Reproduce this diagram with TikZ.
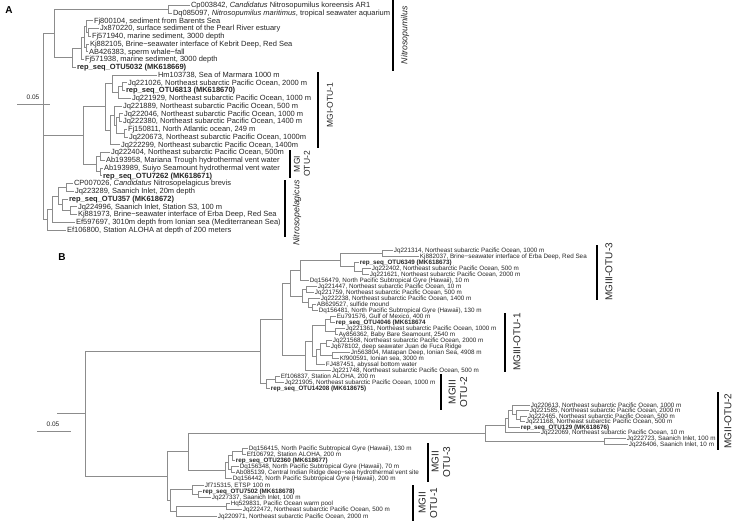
\documentclass[tikz,border=0pt]{standalone}
\usepackage{fontspec}
\setmainfont{Liberation Sans}
\usetikzlibrary{calc}
\tikzset{
 leafA/.style={anchor=west, inner xsep=0.8pt, inner ysep=0pt, text height=5.3pt, text depth=0pt, font=\fontsize{7.5}{8}\selectfont, text=black!85},
 leafB/.style={anchor=west, inner xsep=0.7pt, inner ysep=0pt, text height=4.5pt, text depth=0pt, font=\fontsize{6.3}{7}\selectfont, text=black!85},
 br/.style={draw=black!45, line width=0.5pt},
 cladebar/.style={draw=black, line width=1.3pt},
 cladeA/.style={rotate=90, font=\fontsize{8.5}{10}\selectfont, align=center, inner sep=0pt, text=black!85},
 cladeAi/.style={cladeA, font=\itshape\fontsize{8.8}{10}\selectfont},
 cladeB/.style={rotate=90, font=\fontsize{10}{11.5}\selectfont, align=center, inner sep=0pt, text=black!85},
 panel/.style={font=\bfseries\fontsize{10}{12}\selectfont, inner sep=0pt},
 scl/.style={font=\fontsize{6.5}{8}\selectfont, inner sep=0pt, text=black!85},
}
\newcommand\inode[4]{%
  \path let \p1=(#3), \p2=(#4) in coordinate (#1) at (#2pt,{0.5*\y1+0.5*\y2});
  \draw[br] (#1) |- (#3);
  \draw[br] (#1) |- (#4);}
\newcommand\lfA[4]{\node[leafA] (#1) at (#2,#3) {#4};}
\newcommand\lfB[4]{\node[leafB] (#1) at (#2,#3) {#4};}
\begin{document}
\begin{tikzpicture}[x=1pt,y=-1pt]
\useasboundingbox (0,0) rectangle (737,522);
\fill[white] (0,0) rectangle (737,522);
% ---------------- Panel A ----------------
\node[panel] (pA) at (9,10) {A};
\lfA{cpa}{190}{5}{Cp003842, \textit{Candidatus} Nitrosopumilus koreensis AR1}
\lfA{dqa}{172}{12.75}{Dq085097, \textit{Nitrosopumilus maritimus}, tropical seawater aquarium}
\lfA{fja}{93}{20.5}{Fj800104, sediment from Barents Sea}
\lfA{jxa}{99}{28.25}{Jx870220, surface sediment of the Pearl River estuary}
\lfA{fjb}{91}{36}{Fj571940, marine sediment, 3000 depth}
\lfA{kja}{89}{43.75}{Kj882105, Brine−seawater interface of Kebrit Deep, Red Sea}
\lfA{aba}{88}{51.5}{AB426383, sperm whale−fall}
\lfA{fjc}{84}{59.25}{Fj571938, marine sediment, 3000 depth}
\lfA{rpa}{76}{67}{\textbf{rep\_seq\_OTU5032 (MK618669)}}
\lfA{hma}{157}{74.75}{Hm103738, Sea of Marmara 1000 m}
\lfA{jqa}{127}{82.5}{Jq221026, Northeast subarctic Pacific Ocean, 2000 m}
\lfA{rpb}{125}{90.25}{\textbf{rep\_seq\_OTU6813 (MK618670)}}
\lfA{jqb}{131}{98}{Jq221929, Northeast subarctic Pacific Ocean, 1000 m}
\lfA{jqc}{122}{105.75}{Jq221889, Northeast subarctic Pacific Ocean, 500 m}
\lfA{jqd}{123}{113.5}{Jq222046, Northeast subarctic Pacific Ocean, 1000 m}
\lfA{jqe}{122}{121.25}{Jq222380, Northeast subarctic Pacific Ocean, 1400 m}
\lfA{fjd}{127}{129}{Fj150811, North Atlantic ocean, 249 m}
\lfA{jqf}{128}{136.75}{Jq220673, Northeast subarctic Pacific Ocean, 1000m}
\lfA{jqg}{120}{144.5}{Jq222299, Northeast subarctic Pacific Ocean, 1400m}
\lfA{jqh}{110}{152.25}{Jq222404, Northeast subarctic Pacific Ocean, 500m}
\lfA{abb}{105}{160}{Ab193958, Mariana Trough hydrothermal vent water}
\lfA{abc}{103}{167.75}{Ab193989, Suiyo Seamount hydrothermal vent water}
\lfA{rpc}{102}{175.5}{\textbf{rep\_seq\_OTU7262 (MK618671)}}
\lfA{cpb}{73}{183.25}{CP007026, \textit{Candidatus} Nitrosopelagicus brevis}
\lfA{jqi}{74}{191}{Jq223289, Saanich Inlet, 20m depth}
\lfA{rpd}{68}{198.75}{\textbf{rep\_seq\_OTU357 (MK618672)}}
\lfA{jqj}{77}{206.5}{Jq224996, Saanich Inlet, Station S3, 100 m}
\lfA{kjb}{77}{214.25}{Kj881973, Brine−seawater interface of Erba Deep, Red Sea}
\lfA{efa}{75}{222}{Ef597697, 3010m depth from Ionian sea (Mediterranean Sea)}
\lfA{efb}{66}{229.75}{Ef106800, Station ALOHA at depth of 200 meters}
% tree A
\inode{a1}{168}{cpa.west}{dqa.west}
\inode{s1}{88}{jxa.west}{fjb.west}
\inode{s2}{86}{fja.west}{s1}
\inode{s3}{86}{kja.west}{aba.west}
\inode{s4}{84}{s2}{s3}
\inode{s5}{81}{s4}{fjc.west}
\inode{s6}{72}{s5}{rpa.west}
\inode{a3}{54}{a1}{s6}
\inode{b1}{122}{jqa.west}{rpb.west}
\inode{b2}{118}{b1}{jqb.west}
\inode{b3}{112}{hma.west}{b2}
\inode{b4}{119}{jqd.west}{jqe.west}
\inode{b5}{124}{fjd.west}{jqf.west}
\inode{b6}{116}{b4}{b5}
\inode{b7}{114}{jqc.west}{b6}
\inode{b8}{110}{b7}{jqg.west}
\inode{b9}{105}{b3}{b8}
\inode{c1}{100}{jqh.west}{abb.west}
\inode{c2}{100}{abc.west}{rpc.west}
\inode{c3}{96}{c1}{c2}
\inode{mA}{83}{b9}{c3}
\inode{p1}{66}{cpb.west}{jqi.west}
\inode{p2}{70}{jqj.west}{kjb.west}
\inode{p3}{62}{rpd.west}{p2}
\inode{p4}{58}{p1}{p3}
\inode{p5}{52}{p4}{efa.west}
\inode{p6}{47}{p5}{efb.west}
\inode{rA}{43}{a3}{p6}
\draw[br] (rA) |- (mA);
% scale A
\node[scl] (sA) at (33,97) {0.05};
\draw[br] (17,104) -- (50,104);
% clade labels A
\draw[cladebar] (393,0) -- (393,71);
\node[cladeAi] (lNp) at (405,35) {Nitrosopumilus};
\draw[cladebar] (318,72) -- (318,148);
\node[cladeA] (lM1) at (330,105) {MGI-OTU-1};
\draw[cladebar] (290,150) -- (290,178);
\node[cladeA] (lM2) at (302,164) {MGI\\OTU-2};
\draw[cladebar] (285,180) -- (285,237);
\node[cladeAi] (lNpel) at (297,213) {Nitrosopelagicus};
% ---------------- Panel B ----------------
\node[panel] (pB) at (62,257) {B};
\lfB{b01}{393}{250}{Jq221314, Northeast subarctic Pacific Ocean, 1000 m}
\lfB{b02}{419}{256}{Kj882037, Brine−seawater interface of Erba Deep, Red Sea}
\lfB{b03}{359}{262}{\textbf{rep\_seq\_OTU6349 (MK618673)}}
\lfB{b04}{371}{268}{Jq222402, Northeast subarctic Pacific Ocean, 500 m}
\lfB{b05}{369}{274}{Jq221621, Northeast subarctic Pacific Ocean, 2000 m}
\lfB{b06}{309}{280}{Dq156479, North Pacific Subtropical Gyre (Hawaii), 10 m}
\lfB{b07}{317}{286}{Jq221447, Northeast subarctic Pacific Ocean, 10 m}
\lfB{b08}{314}{292}{Jq221759, Northeast subarctic Pacific Ocean, 500 m}
\lfB{b09}{320}{298}{Jq222238, Northeast subarctic Pacific Ocean, 1400 m}
\lfB{b10}{316}{304}{AB629527, sulfide mound}
\lfB{b11}{318}{310}{Dq156481, North Pacific Subtropical Gyre (Hawaii), 130 m}
\lfB{b12}{336}{316}{Eu791576, Gulf of Mexico, 400 m}
\lfB{b13}{335}{322}{\textbf{rep\_seq\_OTU4046 (MK618674}}
\lfB{b14}{345}{328}{Jq221361, Northeast subarctic Pacific Ocean, 1000 m}
\lfB{b15}{338}{334}{Ay856362, Baby Bare Seamount, 2540 m}
\lfB{b16}{332}{340}{Jq221568, Northeast subarctic Pacific Ocean, 2000 m}
\lfB{b17}{330}{346}{Jq678102, deep seawater Juan de Fuca Ridge}
\lfB{b18}{350}{352}{Jn563804, Matapan Deep, Ionian Sea, 4908 m}
\lfB{b19}{339}{358}{Kf900591, Ionian sea, 3000 m}
\lfB{b20}{325}{364}{FJ487451, abyssal bottom water}
\lfB{b21}{331}{370}{Jq221748, Northeast subarctic Pacific Ocean, 500 m}
\lfB{b22}{280}{376}{Ef106837, Station ALOHA, 200 m}
\lfB{b23}{284}{382}{Jq221905, Northeast subarctic Pacific Ocean, 1000 m}
\lfB{b24}{270}{388}{\textbf{rep\_seq\_OTU14208 (MK618675)}}
\lfB{c01}{530}{405}{Jq220613, Northeast subarctic Pacific Ocean, 1000 m}
\lfB{c02}{529}{410.5}{Jq221585, Northeast subarctic Pacific Ocean, 2000 m}
\lfB{c03}{527}{416}{Jq222465, Northeast subarctic Pacific Ocean, 500 m}
\lfB{c04}{525}{421.5}{Jq221168, Northeast subarctic Pacific Ocean, 500 m}
\lfB{c05}{520}{427}{\textbf{rep\_seq\_OTU129 (MK618676)}}
\lfB{c06}{540}{432.5}{Jq222069, Northeast subarctic Pacific Ocean, 10 m}
\lfB{c07}{626}{438}{Jq222723, Saanich Inlet, 100 m}
\lfB{c08}{628}{444}{Jq226406, Saanich Inlet, 10 m}
\lfB{d01}{248}{448}{Dq156415, North Pacific Subtropical Gyre (Hawaii), 130 m}
\lfB{d02}{246}{454}{Ef106792, Station ALOHA, 200 m}
\lfB{d03}{235}{460}{\textbf{rep\_seq\_OTU2360 (MK618677)}}
\lfB{d04}{239}{466}{Dq156348, North Pacific Subtropical Gyre (Hawaii), 70 m}
\lfB{d05}{235}{472}{Ab085139, Central Indian Ridge deep−sea hydrothermal vent site}
\lfB{d06}{232}{478}{Dq156442, North Pacific Subtropical Gyre (Hawaii), 200 m}
\lfB{e01}{204}{485}{Jf715315, ETSP 100 m}
\lfB{e02}{202}{491}{\textbf{rep\_seq\_OTU7502 (MK618678)}}
\lfB{e03}{211}{497}{Jq227337, Saanich Inlet, 100 m}
\lfB{e04}{230}{503}{Hq529831, Pacific Ocean warm pool}
\lfB{e05}{242}{509}{Jq222472, Northeast subarctic Pacific Ocean, 500 m}
\lfB{e06}{217}{516}{Jq220971, Northeast subarctic Pacific Ocean, 2000 m}
% tree B
\inode{n3a}{382}{b01.west}{b02.west}
\inode{n3c}{362}{b04.west}{b05.west}
\inode{n3b}{354}{b03.west}{n3c}
\inode{n3d}{340}{n3a}{n3b}
\inode{n3e}{300}{n3d}{b06.west}
\inode{n3g}{306}{b07.west}{b08.west}
\inode{n3i}{312}{b10.west}{b11.west}
\inode{n3h}{308}{b09.west}{n3i}
\inode{n3j}{302}{n3g}{n3h}
\inode{n3k}{290}{n3e}{n3j}
\inode{n1a}{330}{b12.west}{b13.west}
\inode{n1b}{335}{b14.west}{b15.west}
\inode{n1c}{325}{n1a}{n1b}
\inode{n1d}{326}{b16.west}{b17.west}
\inode{n1e}{332}{b18.west}{b19.west}
\inode{n1f}{320}{n1d}{n1e}
\inode{n1g}{316}{n1f}{b20.west}
\inode{n1h}{312}{n1c}{n1g}
\inode{n1i}{305}{n1h}{b21.west}
\inode{g1}{282}{n3k}{n1i}
\inode{n2b}{275}{b22.west}{b23.west}
\inode{n2a}{266}{n2b}{b24.west}
\inode{gg}{260}{g1}{n2a}
\inode{m2c}{520}{c03.west}{c04.west}
\inode{m2d}{516}{c02.west}{m2c}
\inode{m2e}{512}{c01.west}{m2d}
\inode{m2f}{508}{m2e}{c05.west}
\inode{m2g}{505}{m2f}{c06.west}
\inode{m2h}{604}{c07.west}{c08.west}
\inode{m2i}{485}{m2g}{m2h}
\inode{m3a}{242}{d01.west}{d02.west}
\inode{m3b}{232}{m3a}{d03.west}
\inode{m3c}{231}{d04.west}{d05.west}
\inode{m3d}{228}{m3b}{m3c}
\inode{m3e}{225}{m3d}{d06.west}
\inode{m1b}{198}{e02.west}{e03.west}
\inode{m1a}{192}{e01.west}{m1b}
\inode{m1c}{226}{e04.west}{e05.west}
\inode{m1d}{176}{m1c}{e06.west}
\inode{m1e}{170}{m1a}{m1d}
\inode{m23}{188}{m2i}{m3e}
\inode{mm}{167}{m23}{m1e}
\inode{rB}{85}{gg}{mm}
\path let \p1=(rB) in coordinate (rBs) at (57pt,\y1);
\draw[br] (rBs) -- (rB);
% scale B
\node[scl] (sB) at (53,424) {0.05};
\draw[br] (37,431) -- (71,431);
% clade labels B
\draw[cladebar] (597,245) -- (597,300);
\node[cladeB] (l31) at (609,272) {MGIII-OTU-3};
\draw[cladebar] (505,313) -- (505,372);
\node[cladeB] (l32) at (517,342) {MGIII-OTU-1};
\draw[cladebar] (441,374) -- (441,410);
\node[cladeB] (l33) at (458,392) {MGIII\\OTU-2};
\draw[cladebar] (718,392) -- (718,450);
\node[cladeB] (l34) at (728,421) {MGII-OTU-2};
\draw[cladebar] (428,443) -- (428,482);
\node[cladeB] (l35) at (441,462) {MGII\\OTU-3};
\draw[cladebar] (413,485) -- (413,521);
\node[cladeB] (l36) at (428,503) {MGII\\OTU-1};
\end{tikzpicture}
\end{document}
